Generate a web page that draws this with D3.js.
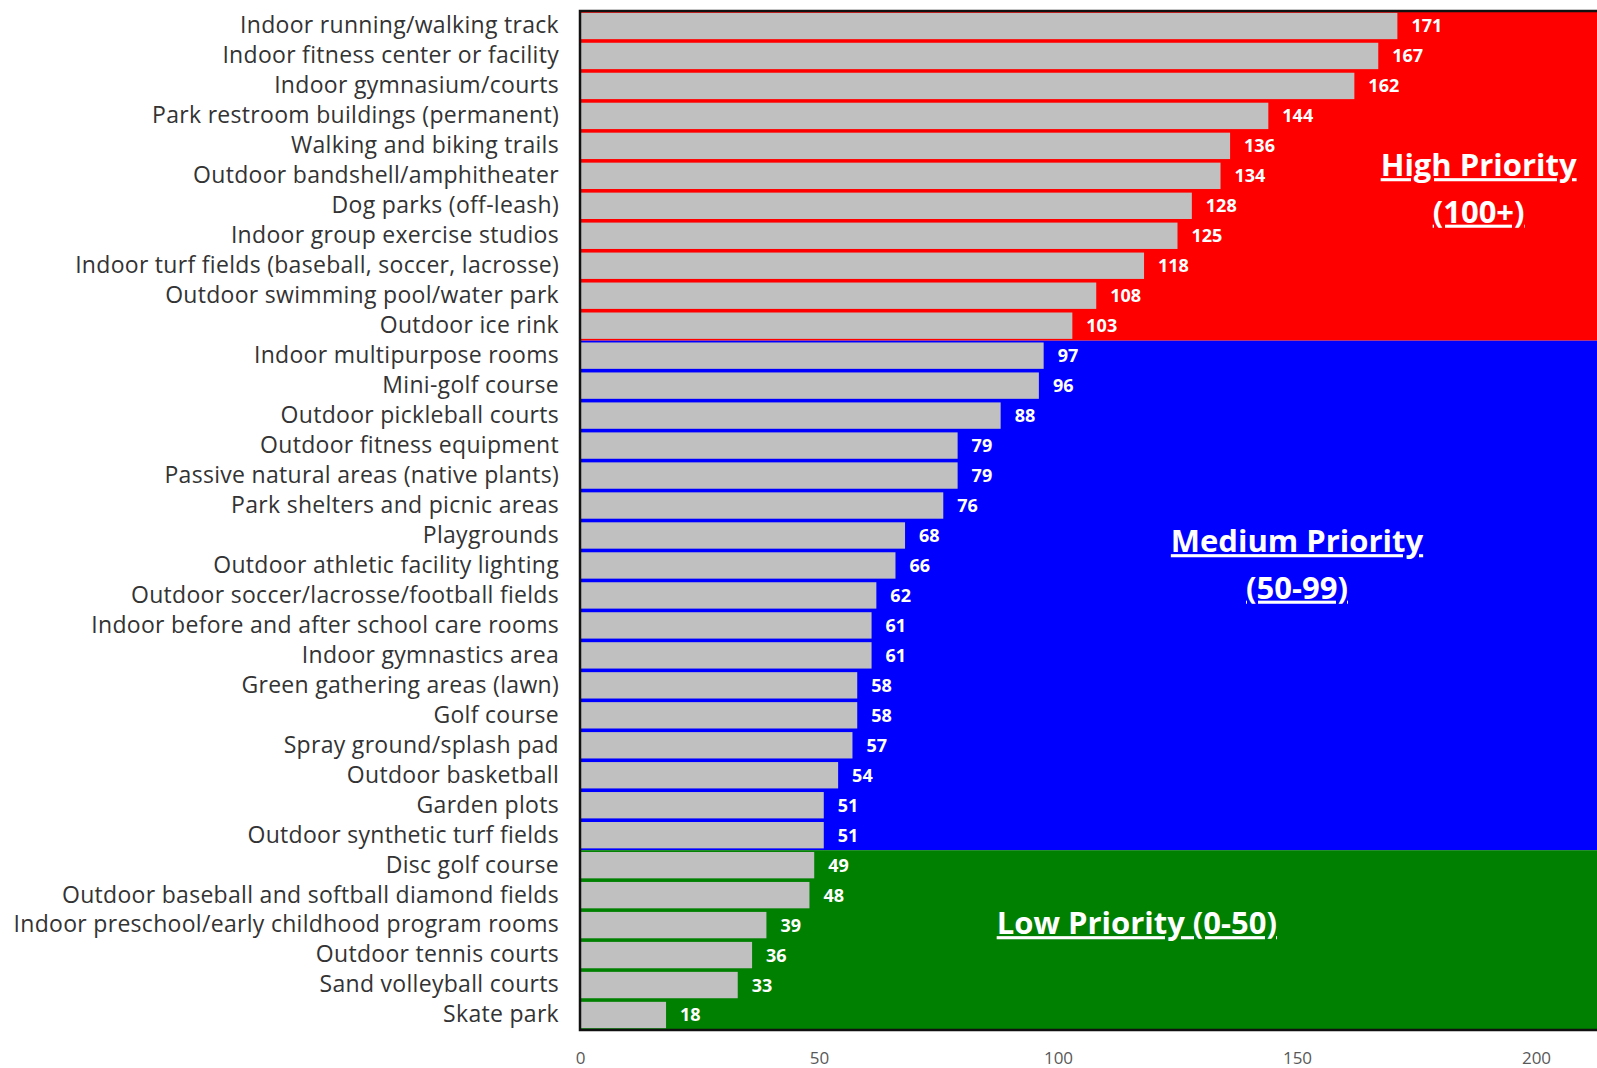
<!DOCTYPE html>
<html>
<head>
<meta charset="utf-8">
<script src="https://cdn.jsdelivr.net/npm/d3@7"></script>
<style>
  body { margin: 0; background: #fff; }
  svg { display: block; }
</style>
</head>
<body>
<svg id="chart" width="1597" height="1068"></svg>
<script>
// Amenities, ranked by priority score
const categories = [
  "Indoor running/walking track",
  "Indoor fitness center or facility",
  "Indoor gymnasium/courts",
  "Park restroom buildings (permanent)",
  "Walking and biking trails",
  "Outdoor bandshell/amphitheater",
  "Dog parks (off-leash)",
  "Indoor group exercise studios",
  "Indoor turf fields (baseball, soccer, lacrosse)",
  "Outdoor swimming pool/water park",
  "Outdoor ice rink",
  "Indoor multipurpose rooms",
  "Mini-golf course",
  "Outdoor pickleball courts",
  "Outdoor fitness equipment",
  "Passive natural areas (native plants)",
  "Park shelters and picnic areas",
  "Playgrounds",
  "Outdoor athletic facility lighting",
  "Outdoor soccer/lacrosse/football fields",
  "Indoor before and after school care rooms",
  "Indoor gymnastics area",
  "Green gathering areas (lawn)",
  "Golf course",
  "Spray ground/splash pad",
  "Outdoor basketball",
  "Garden plots",
  "Outdoor synthetic turf fields",
  "Disc golf course",
  "Outdoor baseball and softball diamond fields",
  "Indoor preschool/early childhood program rooms",
  "Outdoor tennis courts",
  "Sand volleyball courts",
  "Skate park"
];

const scores = [171, 167, 162, 144, 136, 134, 128, 125, 118, 108, 103,
  97, 96, 88, 79, 79, 76, 68, 66, 62, 61, 61, 58, 58, 57, 54, 51, 51,
  49, 48, 39, 36, 33, 18];

// Priority bands: first category in each band
const tierNames = ["High Priority", "Medium Priority", "Low Priority"];
const tierLabels = [["High Priority", "(100+)"], ["Medium Priority", "(50-99)"], ["Low Priority (0-50)"]];
const tierFirst = ["Indoor running/walking track", "Indoor multipurpose rooms", "Disc golf course"];
const tierColors = ["#ff0000", "#0000ff", "#008000"];

const xTicks = [0, 50, 100, 150, 200];

const data = categories.map((c, i) => ({ name: c, value: scores[i] }));

const width = 1597;
const height = 1068;
const margin = { top: 11, right: 0, bottom: 38, left: 580 };
const font = "'Open Sans', 'Noto Sans', sans-serif";

const svg = d3.select("#chart");

const x = d3.scaleLinear().domain([0, 200]).range([margin.left, 1536]);
const y = d3.scaleBand()
  .domain(categories)
  .range([margin.top, height - margin.bottom])
  .paddingInner(0.12)
  .paddingOuter(0.06);

const step = y.step();
const bandTop = (name) => y(name) - step * y.paddingInner() / 2;

// Coloured priority backgrounds
tierNames.forEach((t, i) => {
  const y0 = i === 0 ? margin.top : bandTop(tierFirst[i]);
  const y1 = i === tierNames.length - 1 ? height - margin.bottom : bandTop(tierFirst[i + 1]);
  svg.append("rect")
    .attr("x", margin.left)
    .attr("y", y0)
    .attr("width", width - margin.left)
    .attr("height", y1 - y0)
    .attr("fill", tierColors[i]);
});

// Bars
svg.append("g")
  .selectAll("rect")
  .data(data)
  .join("rect")
  .attr("x", x(0))
  .attr("y", (d) => y(d.name))
  .attr("width", (d) => x(d.value) - x(0))
  .attr("height", y.bandwidth())
  .attr("fill", "#c0c0c0");

// Value labels
svg.append("g")
  .selectAll("text")
  .data(data)
  .join("text")
  .attr("x", (d) => x(d.value) + 14)
  .attr("y", (d) => y(d.name) + y.bandwidth() / 2)
  .attr("dy", "0.36em")
  .attr("fill", "#fff")
  .attr("font-family", font)
  .attr("font-weight", "bold")
  .attr("font-size", 18)
  .text((d) => d.value);

// Frame
svg.append("path")
  .attr("d", `M${width},${margin.top}H${margin.left}V${height - margin.bottom}H${width}`)
  .attr("fill", "none")
  .attr("stroke", "#111")
  .attr("stroke-width", 2.5);

// Category axis
const yAxis = d3.axisLeft(y).tickSize(0).tickPadding(21);
svg.append("g")
  .attr("transform", `translate(${margin.left},0)`)
  .call(yAxis)
  .call((g) => g.select(".domain").remove())
  .selectAll("text")
  .attr("fill", "#333")
  .attr("font-family", font)
  .attr("font-size", 23)
  .attr("letter-spacing", 0.3);

// Value axis
const xAxis = d3.axisBottom(x).tickValues(xTicks).tickSize(0).tickPadding(22);
svg.append("g")
  .attr("transform", `translate(0,${height - margin.bottom})`)
  .call(xAxis)
  .call((g) => g.select(".domain").remove())
  .selectAll("text")
  .attr("fill", "#595959")
  .attr("font-family", font)
  .attr("font-size", 17);

// Priority band titles
const tierTitlePos = [[188, 165], [150, 541], [116.5, 923]];
tierLabels.forEach((lines, i) => {
  const t = svg.append("text")
    .attr("x", x(tierTitlePos[i][0]))
    .attr("y", tierTitlePos[i][1])
    .attr("text-anchor", "middle")
    .attr("fill", "#fff")
    .attr("font-family", font)
    .attr("font-weight", "bold")
    .attr("font-size", 31)
    .attr("text-decoration", "underline");
  lines.forEach((l, j) => {
    t.append("tspan")
      .attr("x", x(tierTitlePos[i][0]))
      .attr("dy", j === 0 ? "0.36em" : "1.5em")
      .text(l);
  });
});
</script>
</body>
</html>
